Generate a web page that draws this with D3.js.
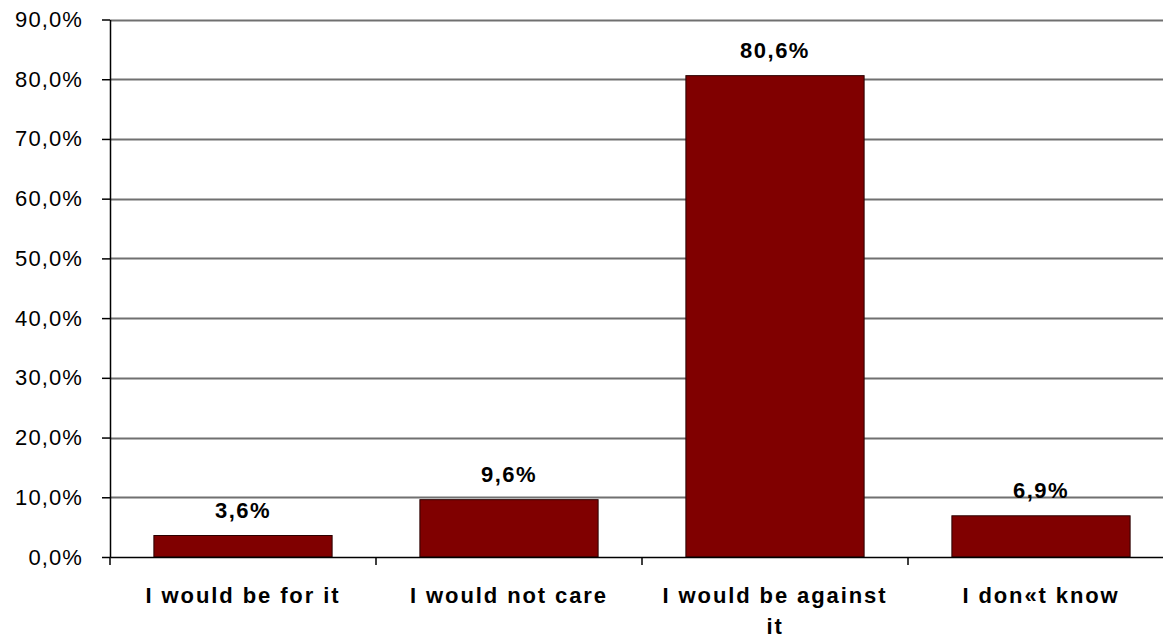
<!DOCTYPE html>
<html>
<head>
<meta charset="utf-8">
<script src="https://cdn.jsdelivr.net/npm/d3@7"></script>
<style>
  body{margin:0;background:#fff;}
  svg text{font-family:Arial,"Liberation Sans",sans-serif;}
</style>
</head>
<body>
<div id="chart"></div>
<script>
const categories = ["I would be for it", "I would not care", "I would be against it", "I don\u00abt know"];
const values = [3.6, 9.6, 80.6, 6.9];
const yTicks = [0, 10, 20, 30, 40, 50, 60, 70, 80, 90];

const W = 1163, H = 638;
const plotL = 110, plotR = 1174, plotT = 19.5, plotB = 557;

const svg = d3.select('#chart').append('svg').attr('width', W).attr('height', H);

const x = d3.scaleBand().domain(categories).range([plotL, plotR]).paddingInner(0.33).paddingOuter(0.165);
const y = d3.scaleLinear().domain([0, 90]).range([plotB, plotT]);

const fmt = v => v.toFixed(1).replace('.', ',') + '%';

// gridlines
svg.append('g').selectAll('line').data(yTicks.filter(d => d > 0)).join('line')
  .attr('x1', plotL).attr('x2', plotR)
  .attr('y1', d => Math.round(y(d)) + 0.5).attr('y2', d => Math.round(y(d)) + 0.5)
  .attr('stroke', '#707070').attr('stroke-width', 2);

// bars
svg.append('g').selectAll('rect').data(values).join('rect')
  .attr('x', (d, i) => x(categories[i]))
  .attr('width', x.bandwidth())
  .attr('y', d => y(d))
  .attr('height', d => y(0) - y(d))
  .attr('fill', '#800000')
  .attr('stroke', '#2a0000').attr('stroke-width', 1);

// value labels
svg.append('g').selectAll('text').data(values).join('text')
  .attr('x', (d, i) => x(categories[i]) + x.bandwidth() / 2)
  .attr('y', d => y(d) - 18)
  .attr('text-anchor', 'middle')
  .attr('font-size', 22).attr('font-weight', 'bold')
  .attr('letter-spacing', 1.5)
  .attr('fill', '#000')
  .text(fmt);

// y axis
const yAxis = svg.append('g').attr('transform', `translate(${plotL},0)`)
  .call(d3.axisLeft(y).tickValues(yTicks).tickFormat(fmt).tickSize(8).tickSizeOuter(0).tickPadding(19));
yAxis.select('.domain').attr('stroke', '#000').attr('stroke-width', 1.5);
yAxis.selectAll('.tick line').attr('stroke', '#000').attr('stroke-width', 1.5);
yAxis.selectAll('.tick text').attr('font-size', 22).attr('fill', '#000')
  .attr('letter-spacing', 1.1)
  .attr('font-family', 'Arial,"Liberation Sans",sans-serif');

// x axis
const xAxis = svg.append('g').attr('transform', `translate(0,${plotB})`)
  .call(d3.axisBottom(x).tickSize(0).tickPadding(0));
xAxis.select('.domain').attr('stroke', '#000').attr('stroke-width', 1.5);
xAxis.selectAll('.tick text').remove();

// category boundary ticks
const bounds = categories.map(c => x(c) - x.step() * x.paddingInner() / 2);
xAxis.selectAll('line.bound').data(bounds).join('line').attr('class', 'bound')
  .attr('x1', d => d).attr('x2', d => d).attr('y1', 0).attr('y2', 8)
  .attr('stroke', '#000').attr('stroke-width', 1.5);

// category labels, wrapped
const maxW = 232;
svg.append('g').selectAll('text').data(categories).join('text')
  .attr('x', d => x(d) + x.bandwidth() / 2)
  .attr('y', 603)
  .attr('text-anchor', 'middle')
  .attr('font-size', 22).attr('font-weight', 'bold')
  .attr('letter-spacing', 1.9)
  .attr('fill', '#000')
  .each(function(d) {
    const t = d3.select(this);
    const words = d.split(' ');
    let line = [];
    let ts = t.append('tspan').attr('x', t.attr('x')).attr('dy', 0);
    words.forEach(w => {
      line.push(w);
      ts.text(line.join(' '));
      if (ts.node().getComputedTextLength() > maxW && line.length > 1) {
        line.pop();
        ts.text(line.join(' '));
        line = [w];
        ts = t.append('tspan').attr('x', t.attr('x')).attr('dy', 31).text(w);
      }
    });
  });
</script>
</body>
</html>
